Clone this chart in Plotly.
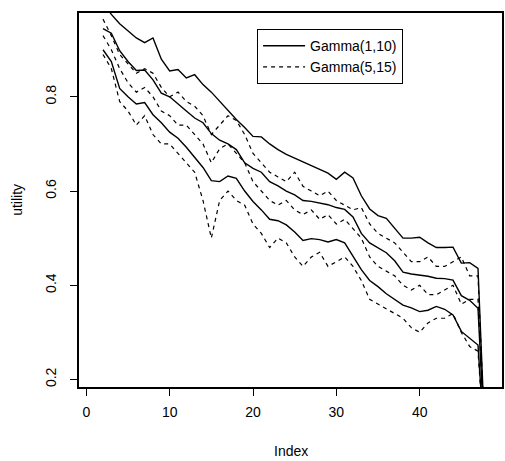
import plotly.graph_objects as go

index = list(range(2, 49))

# Gamma(1,10): upper, middle, lower (solid)
g1_hi = [1.00, 0.975, 0.955, 0.94, 0.925, 0.915, 0.925, 0.88, 0.855, 0.858, 0.840, 0.847, 0.826, 0.81, 0.79,
         0.77, 0.752, 0.735, 0.716, 0.715, 0.70, 0.688, 0.678, 0.670, 0.662, 0.653, 0.645, 0.638, 0.625, 0.64,
         0.628, 0.59, 0.562, 0.548, 0.542, 0.522, 0.50, 0.50, 0.502, 0.49, 0.48, 0.48, 0.481, 0.447, 0.448,
         0.436, 0.0]
g1_mid = [0.945, 0.935, 0.898, 0.875, 0.856, 0.857, 0.836, 0.808, 0.800, 0.786, 0.770, 0.755, 0.745, 0.722,
          0.708, 0.700, 0.688, 0.66, 0.648, 0.64, 0.62, 0.611, 0.60, 0.592, 0.580, 0.578, 0.574, 0.571, 0.565,
          0.561, 0.545, 0.51, 0.49, 0.48, 0.469, 0.452, 0.428, 0.424, 0.422, 0.419, 0.415, 0.414, 0.411, 0.378,
          0.368, 0.351, 0.0]
g1_lo = [0.900, 0.875, 0.818, 0.800, 0.785, 0.788, 0.762, 0.745, 0.725, 0.712, 0.693, 0.672, 0.650, 0.622,
         0.620, 0.632, 0.627, 0.600, 0.578, 0.560, 0.540, 0.537, 0.528, 0.513, 0.495, 0.499, 0.497, 0.492,
         0.497, 0.490, 0.462, 0.433, 0.410, 0.397, 0.382, 0.370, 0.358, 0.352, 0.344, 0.347, 0.355, 0.349,
         0.337, 0.302, 0.288, 0.273, 0.0]

# Gamma(5,15): upper, middle, lower (dashed)
g5_hi = [0.965, 0.93, 0.89, 0.87, 0.85, 0.86, 0.85, 0.82, 0.80, 0.81, 0.79, 0.78, 0.76, 0.72, 0.74, 0.76,
         0.75, 0.72, 0.68, 0.66, 0.64, 0.63, 0.62, 0.64, 0.61, 0.60, 0.59, 0.60, 0.58, 0.57, 0.56, 0.565,
         0.53, 0.51, 0.50, 0.49, 0.47, 0.45, 0.45, 0.46, 0.44, 0.44, 0.45, 0.46, 0.42, 0.42, 0.0]
g5_mid = [0.93, 0.90, 0.86, 0.83, 0.81, 0.82, 0.80, 0.77, 0.76, 0.74, 0.74, 0.72, 0.70, 0.66, 0.69, 0.70,
          0.68, 0.66, 0.62, 0.60, 0.58, 0.57, 0.58, 0.56, 0.55, 0.56, 0.54, 0.55, 0.53, 0.54, 0.52, 0.50,
          0.46, 0.44, 0.43, 0.42, 0.40, 0.39, 0.40, 0.38, 0.38, 0.39, 0.40, 0.36, 0.37, 0.37, 0.0]
g5_lo = [0.89, 0.86, 0.79, 0.77, 0.74, 0.76, 0.72, 0.70, 0.70, 0.68, 0.66, 0.64, 0.58, 0.50, 0.58, 0.60,
         0.58, 0.57, 0.53, 0.51, 0.48, 0.50, 0.49, 0.46, 0.44, 0.46, 0.47, 0.44, 0.45, 0.46, 0.44, 0.41,
         0.37, 0.36, 0.35, 0.34, 0.33, 0.31, 0.30, 0.32, 0.33, 0.33, 0.34, 0.30, 0.27, 0.26, 0.0]

x_ticks = [0, 10, 20, 30, 40]
y_ticks = [0.2, 0.4, 0.6, 0.8]

fig = go.Figure()
solid = dict(color="black", width=1.4)
dashed = dict(color="black", width=1.2, dash="4px,4px")

for i, ys in enumerate([g1_hi, g1_mid, g1_lo]):
    fig.add_trace(go.Scatter(x=index, y=ys, mode="lines", line=solid, name="Gamma(1,10)",
                             legendgroup="g1", showlegend=(i == 0)))
for i, ys in enumerate([g5_hi, g5_mid, g5_lo]):
    fig.add_trace(go.Scatter(x=index, y=ys, mode="lines", line=dashed, name="Gamma(5,15)",
                             legendgroup="g5", showlegend=(i == 0)))

fam = "Liberation Sans, Arial, sans-serif"
font = dict(family=fam, size=14, color="black")
fig.update_layout(
    width=505, height=461,
    margin=dict(l=79, r=3, t=13, b=74, autoexpand=False),
    plot_bgcolor="white", paper_bgcolor="white",
    font=font,
    showlegend=True,
    legend=dict(x=0.421, y=0.957, xanchor="left", yanchor="top",
                bordercolor="black", borderwidth=1, bgcolor="white",
                font=dict(family=fam, size=14, color="black"),
                tracegroupgap=0, itemwidth=42),
    annotations=[
        dict(text="Index", x=0.5, xref="paper", y=-0.172, yref="paper", showarrow=False,
             xanchor="center", yanchor="middle", font=dict(family=fam, size=14, color="black")),
        dict(text="utility", x=-0.147, xref="paper", y=0.5, yref="paper", showarrow=False,
             textangle=-90, xanchor="center", yanchor="middle", font=dict(family=fam, size=14, color="black")),
    ],
)
fig.update_xaxes(range=[-0.88, 49.88], tickvals=x_ticks, ticks="outside", ticklen=7, tickwidth=1,
                 tickcolor="black", showline=True, linecolor="black", linewidth=1.5, mirror=True,
                 showgrid=False, zeroline=False, automargin=False, tickfont=dict(size=14),
                 ticklabelstandoff=4)
fig.update_yaxes(range=[0.184, 0.978], tickvals=y_ticks, ticktext=[f"{v:.1f}" for v in y_ticks],
                 ticks="outside", ticklen=7, tickwidth=1, tickcolor="black", tickangle=-90,
                 showline=True, linecolor="black", linewidth=1.5, mirror=True,
                 showgrid=False, zeroline=False, automargin=False, tickfont=dict(size=14),
                 ticklabelstandoff=9)

fig.write_html("out.html", config={"displayModeBar": False},
               post_script="document.body.style.margin='0';document.body.style.overflow='hidden';")
